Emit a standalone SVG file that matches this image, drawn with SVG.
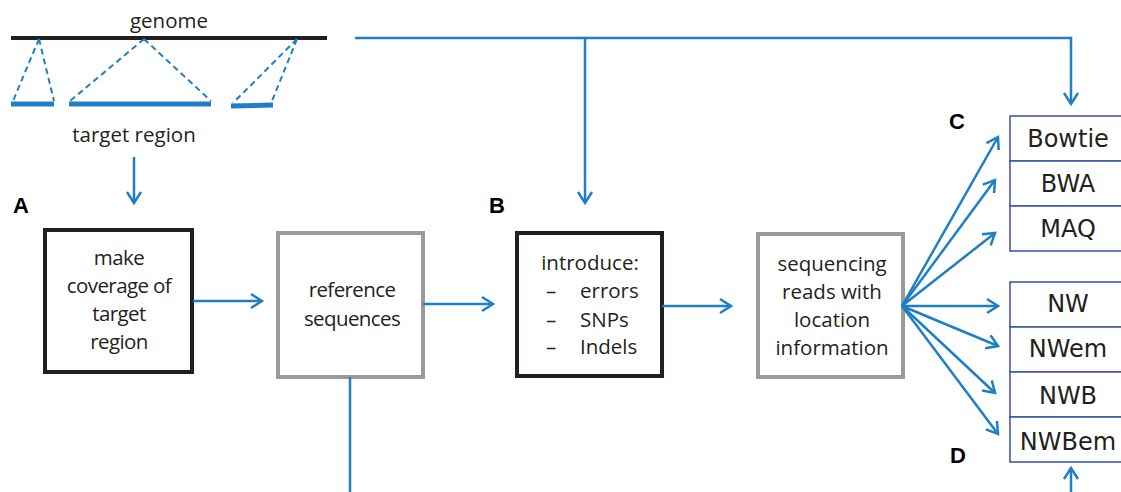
<svg xmlns="http://www.w3.org/2000/svg" width="1121" height="492" viewBox="0 0 1121 492">
  <style>
    .lbl { font-family: "Open Sans", "Liberation Sans", sans-serif; font-size: 20.5px; fill: #231f20; text-anchor: middle; }
    .lft { font-family: "Open Sans", "Liberation Sans", sans-serif; font-size: 20.5px; fill: #231f20; text-anchor: start; }
    .tight { letter-spacing: -0.6px; }
    .tool { font-family: "DejaVu Sans", sans-serif; font-size: 24px; fill: #231f20; text-anchor: middle; }
    .panel { font-family: "Liberation Sans", Arial, sans-serif; font-size: 22px; font-weight: bold; fill: #000; }
    .boxk { fill: #fff; stroke: #231f20; stroke-width: 4; }
    .boxg { fill: #fff; stroke: #9a9a9c; stroke-width: 4; }
    .boxb { fill: #fff; stroke: #3a50a0; stroke-width: 1.5; }
    .wire { fill: none; stroke: #1f7fc4; stroke-width: 2.5; }
    .dash { fill: none; stroke: #1f7fc4; stroke-width: 2; stroke-dasharray: 6 4; }
    .bar { fill: none; stroke: #1f7fc4; stroke-width: 5; }
  </style>
  <defs>
    <marker id="arr" markerUnits="userSpaceOnUse" markerWidth="14" markerHeight="16" refX="12" refY="8" orient="auto" overflow="visible">
      <path d="M1,1 L12,8 L1,15" fill="none" stroke="#1f7fc4" stroke-width="2.5"/>
    </marker>
  </defs>

  <!-- genome and target regions -->
  <g id="genome">
    <text class="lbl" x="169" y="28">genome</text>
    <line x1="11" y1="38" x2="327" y2="38" stroke="#231f20" stroke-width="4"/>
    <path class="dash" d="M39,39 L13,101 M39,39 L54,101 M144,39 L70,101 M144,39 L211,101 M297,39 L233,103 M297,39 L272,101"/>
    <path class="bar" d="M11,104 L54,104 M69,104 L211,104 M231,106 L273,105"/>
    <text class="lbl" x="134" y="142">target region</text>
  </g>

  <!-- panel letters -->
  <g id="panel-labels">
    <text class="panel" x="13" y="213">A</text>
    <text class="panel" x="489" y="213">B</text>
    <text class="panel" x="949" y="129">C</text>
    <text class="panel" x="950" y="463">D</text>
  </g>

  <g id="node-coverage">
    <rect class="boxk" x="45" y="230" width="147" height="142"/>
    <text class="lbl tight" x="119" y="265">make</text>
    <text class="lbl tight" x="119" y="293">coverage of</text>
    <text class="lbl tight" x="119" y="321">target</text>
    <text class="lbl tight" x="119" y="349">region</text>
  </g>

  <g id="node-reference">
    <rect class="boxg" x="278" y="233" width="145" height="144"/>
    <text class="lbl tight" x="352" y="297">reference</text>
    <text class="lbl tight" x="352" y="326">sequences</text>
  </g>

  <g id="node-introduce">
    <rect class="boxk" x="517" y="233" width="145" height="143"/>
    <text class="lbl" x="590" y="270">introduce:</text>
    <text class="lbl" x="551" y="298">–</text>
    <text class="lbl" x="551" y="327">–</text>
    <text class="lbl" x="551" y="354">–</text>
    <text class="lft" x="580" y="298">errors</text>
    <text class="lft" x="580" y="327">SNPs</text>
    <text class="lft" x="580" y="354">Indels</text>
  </g>

  <g id="node-reads">
    <rect class="boxg" x="758" y="234" width="145" height="143"/>
    <text class="lbl" x="832" y="271">sequencing</text>
    <text class="lbl" x="832" y="299">reads with</text>
    <text class="lbl" x="832" y="327">location</text>
    <text class="lbl" x="832" y="355">information</text>
  </g>

  <g id="node-mappers-c">
    <rect class="boxb" x="1010" y="116" width="125" height="45"/>
    <rect class="boxb" x="1010" y="161" width="125" height="45"/>
    <rect class="boxb" x="1010" y="206" width="125" height="45"/>
    <text class="tool" x="1068" y="147">Bowtie</text>
    <text class="tool" x="1068" y="192">BWA</text>
    <text class="tool" x="1068" y="237">MAQ</text>
  </g>

  <g id="node-mappers-d">
    <rect class="boxb" x="1010" y="282" width="125" height="45"/>
    <rect class="boxb" x="1010" y="327" width="125" height="45"/>
    <rect class="boxb" x="1010" y="372" width="125" height="45"/>
    <rect class="boxb" x="1010" y="417" width="125" height="45"/>
    <text class="tool" x="1068" y="312">NW</text>
    <text class="tool" x="1068" y="357">NWem</text>
    <text class="tool" x="1068" y="404">NWB</text>
    <text class="tool" x="1068" y="450">NWBem</text>
  </g>

  <g id="connectors">
    <line class="wire" x1="134" y1="157" x2="134" y2="203" marker-end="url(#arr)"/>
    <line class="wire" x1="193" y1="301" x2="262" y2="301" marker-end="url(#arr)"/>
    <line class="wire" x1="423" y1="304" x2="493" y2="304" marker-end="url(#arr)"/>
    <line class="wire" x1="662" y1="306" x2="731" y2="306" marker-end="url(#arr)"/>
    <line class="wire" x1="350" y1="377" x2="350" y2="492"/>
    <path class="wire" d="M355,38 L1071,38 L1071,104" marker-end="url(#arr)"/>
    <line class="wire" x1="585" y1="38" x2="585" y2="203" marker-end="url(#arr)"/>
    <line class="wire" x1="1071" y1="492" x2="1071" y2="468" marker-end="url(#arr)"/>
    <line class="wire" x1="902" y1="306" x2="998" y2="137" marker-end="url(#arr)"/>
    <line class="wire" x1="902" y1="306" x2="995" y2="180" marker-end="url(#arr)"/>
    <line class="wire" x1="902" y1="306" x2="995" y2="233" marker-end="url(#arr)"/>
    <line class="wire" x1="902" y1="306" x2="998" y2="306" marker-end="url(#arr)"/>
    <line class="wire" x1="902" y1="306" x2="998" y2="346" marker-end="url(#arr)"/>
    <line class="wire" x1="902" y1="306" x2="995" y2="393" marker-end="url(#arr)"/>
    <line class="wire" x1="902" y1="306" x2="998" y2="434" marker-end="url(#arr)"/>
  </g>
</svg>
